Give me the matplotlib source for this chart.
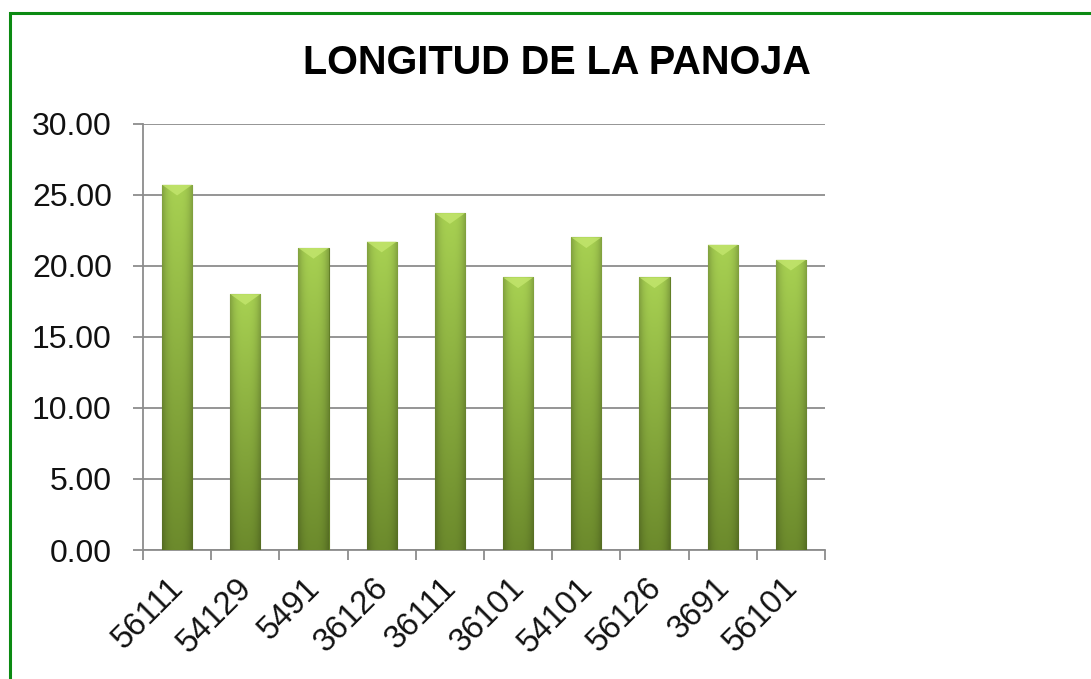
import numpy as np
import matplotlib
matplotlib.use("Agg")
import matplotlib.pyplot as plt
import matplotlib.transforms as mtransforms
from matplotlib.colors import to_rgb
from matplotlib.patches import Rectangle, Polygon

# data
variedades = ["56111", "54129", "5491", "36126", "36111",
              "36101", "54101", "56126", "3691", "56101"]
longitud = [25.70, 18.00, 21.25, 21.70, 23.70,
            19.18, 22.00, 19.18, 21.48, 20.42]
yticks = [0, 5, 10, 15, 20, 25, 30]

plt.rcParams['font.family'] = ['Liberation Sans', 'DejaVu Sans']

fig = plt.figure(figsize=(10.91, 6.79), dpi=100)
ax = fig.add_axes([143 / 1091, 1 - 550 / 679, 682 / 1091, 426.3 / 679])

x = np.arange(len(variedades))
bars = ax.bar(x, longitud, width=0.44, color="#8fb43f",
              edgecolor="#627f26", linewidth=0.8, zorder=3)

# gradient fill clipped to each bar
top_c = np.array(to_rgb("#a8d152"))
bot_c = np.array(to_rgb("#6c8a2c"))
ny, nx = 200, 40
v = np.linspace(0, 1, ny)[:, None]      # 0 bottom -> 1 top
u = np.linspace(-1, 1, nx)[None, :]
base = bot_c[None, None, :] * (1 - v[..., None]) + top_c[None, None, :] * v[..., None]
shade = 1 - 0.22 * np.abs(u) ** 3
img = np.clip(base * shade[..., None], 0, 1)
for b in bars:
    x0, w, h = b.get_x(), b.get_width(), b.get_height()
    im = ax.imshow(img, extent=[x0, x0 + w, 0, h], origin="lower",
                   aspect="auto", zorder=3, interpolation="bilinear")
    im.set_clip_path(b)
    # small chevron highlight at the top of each bar
    d = 0.75
    tri = Polygon([[x0, h], [x0 + w, h], [x0 + w / 2, h - d]], closed=True,
                  facecolor="#c6e870", edgecolor="none", alpha=0.75, zorder=4)
    ax.add_patch(tri)

ax.set_xlim(-0.5, len(variedades) - 0.5)
ax.set_ylim(0, 30)
ax.set_yticks(yticks)
ax.set_yticklabels([f"{t:.2f}" for t in yticks])
ax.set_xticks(x)
ax.set_xticklabels(variedades, rotation=45, ha="right", va="top",
                   rotation_mode="anchor")
ax.set_xticks(np.arange(len(variedades) + 1) - 0.5, minor=True)

grid_c = "#8c8c8c"
ax.yaxis.grid(True, color=grid_c, linewidth=1.3, zorder=0)
ax.set_axisbelow(True)
for s in ["top", "right"]:
    ax.spines[s].set_visible(False)
for s in ["left", "bottom"]:
    ax.spines[s].set_color(grid_c)
    ax.spines[s].set_linewidth(1.3)

ax.tick_params(axis="y", length=7.5, width=1.3, color=grid_c,
               labelsize=23, pad=15, labelcolor="#111111")
ax.tick_params(axis="x", which="major", length=0, labelsize=23.5, pad=16,
               labelcolor="#111111")
ax.tick_params(axis="x", which="minor", length=7.5, width=1.3, color=grid_c)

# nudge the rotated labels a little to the left
shift = mtransforms.ScaledTranslation(-9 / 100, 0, fig.dpi_scale_trans)
for lab in ax.get_xticklabels():
    lab.set_transform(lab.get_transform() + shift)

fig.text(557 / 1091, 1 - 63 / 679, "LONGITUD DE LA PANOJA", ha="center",
         va="center", fontsize=28.5, fontweight="bold", color="black")

# green frame around the chart
frame = Rectangle((10 / 1091, -0.2), 1.2, 1 - 13 / 679 + 0.2,
                  transform=fig.transFigure, fill=False,
                  edgecolor="#0b8a12", linewidth=2.2)
fig.patches.append(frame)

fig.savefig("out.png", dpi=100)
